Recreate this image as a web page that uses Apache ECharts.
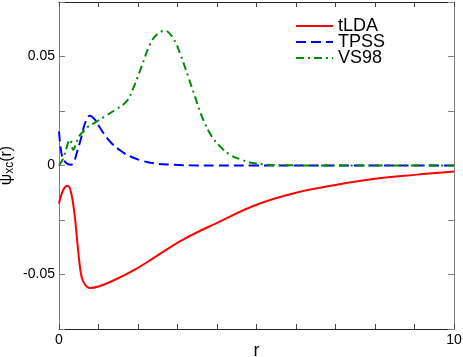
<!DOCTYPE html>
<html>
<head>
<meta charset="utf-8">
<script src="https://cdn.jsdelivr.net/npm/echarts@6/dist/echarts.min.js"></script>
<style>
  html, body { margin: 0; padding: 0; background: #fff; }
  #chart { width: 463px; height: 357px; }
</style>
</head>
<body>
<div id="chart"></div>
<script>
  // values
  const rTLDA = [0, 0.11, 0.22, 0.30, 0.39, 0.45, 0.51, 0.57, 0.66, 0.78, 1.0, 1.42, 1.92, 2.43, 3.14, 4.0, 5.0, 6.0, 7.0, 8.0, 9.0, 10]
  const tLDA = [-0.0175, -0.0111, -0.0093, -0.0119, -0.0218, -0.0326, -0.0433, -0.0509, -0.0547, -0.0562, -0.0555, -0.0524, -0.0478, -0.042, -0.034, -0.0263, -0.018, -0.0125, -0.0089, -0.0061, -0.0043, -0.0028]

  const rTPSS = [0, 0.07, 0.15, 0.28, 0.36, 0.45, 0.57, 0.66, 0.78, 0.91, 1.04, 1.29, 1.59, 1.84, 2.1, 2.4, 2.8, 3.3, 4, 5, 6, 7, 8, 9, 10]
  const TPSS = [0.0156, 0.0049, 0.0018, 0.0003, 0.001, 0.0057, 0.0133, 0.0194, 0.0228, 0.021, 0.0172, 0.011, 0.0064, 0.0039, 0.0022, 0.001, 0.0004, 0.0001, 0, 0, 0, 0, 0, 0, 0]

  const rVS98 = [0, 0.11, 0.24, 0.28, 0.36, 0.45, 0.53, 0.62, 0.74, 0.91, 1.16, 1.42, 1.71, 1.88, 2.09, 2.30, 2.47, 2.68, 2.89, 3.06, 3.27, 3.44, 3.65, 3.87, 4.08, 4.33, 4.63, 4.84, 5.26, 5.8, 6.5, 8, 10]
  const VS98 = [0, 0.0034, 0.011, 0.0118, 0.0072, 0.011, 0.014, 0.0156, 0.0179, 0.0197, 0.0225, 0.0255, 0.0294, 0.0355, 0.0454, 0.0554, 0.060, 0.0618, 0.0584, 0.0516, 0.0408, 0.0317, 0.021, 0.0133, 0.0087, 0.0049, 0.0026, 0.0014, 0.0004, 0.0001, 0, 0, 0]

  // ticks that carry a label
  const xTickLabels = [0, 10]
  const yTickLabels = [-0.05, 0, 0.05]

  const font = 'Liberation Sans, Arial, sans-serif'

  function pairs(xs, ys) {
    return xs.map((x, i) => [x, ys[i]])
  }
  function hasLabel(list, v) {
    return list.some(t => Math.abs(t - v) < 1e-9)
  }

  let myChart = echarts.init(document.getElementById('chart'))

  const vertAxisLine = { onZero: false, lineStyle: { color: '#808080', width: 1 } }
  const horzAxisLine = { onZero: false, lineStyle: { color: '#222', width: 1 } }

  myChart.setOption({
    animation: false,
    textStyle: { fontFamily: font },
    grid: { left: 59, right: 9, top: 2, bottom: 28, containLabel: false, outerBoundsMode: 'none' },
    legend: {
      left: 290,
      top: 12,
      orient: 'vertical',
      itemWidth: 37,
      itemHeight: 14,
      itemGap: -2,
      itemStyle: { opacity: 0 },
      textStyle: { fontSize: 18, lineHeight: 17, color: '#000', fontFamily: font },
      data: ['tLDA', 'TPSS', 'VS98']
    },
    xAxis: [
      {
        type: 'value',
        min: 0,
        max: 10,
        interval: 1,
        name: 'r',
        nameLocation: 'middle',
        nameGap: 13,
        nameMoveOverlap: false,
        nameTextStyle: { fontSize: 18, color: '#000' },
        axisLine: horzAxisLine,
        axisTick: { inside: true, length: 5, lineStyle: { color: '#444' } },
        splitLine: { show: false },
        axisLabel: {
          fontSize: 14,
          color: '#000',
          margin: 4,
          formatter: v => hasLabel(xTickLabels, v) ? String(v) : ''
        }
      },
      {
        type: 'value',
        position: 'top',
        min: 0,
        max: 10,
        interval: 1,
        axisLine: horzAxisLine,
        axisTick: { inside: true, length: 5, lineStyle: { color: '#444' } },
        splitLine: { show: false },
        axisLabel: { show: false }
      }
    ],
    yAxis: [
      {
        type: 'value',
        min: -0.075,
        max: 0.075,
        interval: 0.025,
        name: '{a|ψ}{b|xc}{a|(r)}',
        nameLocation: 'middle',
        nameGap: 43,
        nameRotate: 90,
        nameMoveOverlap: false,
        nameTextStyle: {
          rich: {
            a: { fontSize: 16, color: '#000', fontFamily: font },
            b: { fontSize: 12, color: '#000', fontFamily: font, padding: [7, 0, 0, 0] }
          }
        },
        axisLine: vertAxisLine,
        axisTick: { inside: true, length: 6, lineStyle: { color: '#808080' } },
        splitLine: { show: false },
        axisLabel: {
          fontSize: 14,
          color: '#000',
          margin: 4,
          formatter: v => hasLabel(yTickLabels, v) ? String(Math.round(v * 1000) / 1000) : ''
        }
      },
      {
        type: 'value',
        position: 'right',
        min: -0.075,
        max: 0.075,
        interval: 0.025,
        axisLine: vertAxisLine,
        axisTick: { inside: true, length: 6, lineStyle: { color: '#808080' } },
        splitLine: { show: false },
        axisLabel: { show: false }
      }
    ],
    series: [
      {
        name: 'tLDA',
        type: 'line',
        symbol: 'none',
        smooth: 0.4,
        data: pairs(rTLDA, tLDA),
        itemStyle: { color: '#ff0000' },
        lineStyle: { color: '#ff0000', width: 2 }
      },
      {
        name: 'TPSS',
        type: 'line',
        symbol: 'none',
        smooth: 0.4,
        data: pairs(rTPSS, TPSS),
        itemStyle: { color: '#0000ff' },
        lineStyle: { color: '#0000ff', width: 2, type: [10, 5] }
      },
      {
        name: 'VS98',
        type: 'line',
        symbol: 'none',
        smooth: 0.4,
        data: pairs(rVS98, VS98),
        itemStyle: { color: '#008c00' },
        lineStyle: { color: '#008c00', width: 2, type: [8, 4, 2, 4] }
      }
    ]
  })

  window.addEventListener('resize', () => {
    myChart.resize()
  })
</script>
</body>
</html>
